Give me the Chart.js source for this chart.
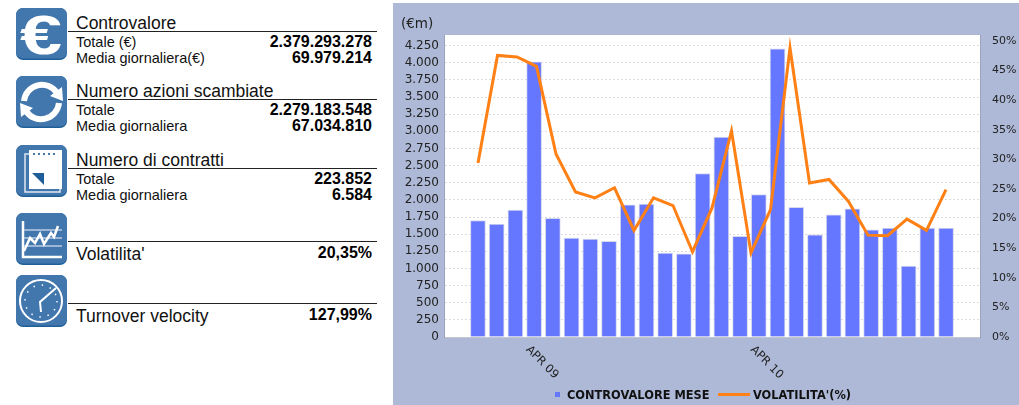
<!DOCTYPE html>
<html>
<head>
<meta charset="utf-8">
<script src="https://cdn.jsdelivr.net/npm/chart.js@4"></script>
<style>
html, body { margin: 0; padding: 0; background: #fff; overflow: hidden; }
#page { position: relative; width: 1019px; height: 405px; }
#panel { position: absolute; left: 393px; top: 3px; width: 626px; height: 402px; background: #adb9d7; }
#panel canvas { position: absolute; left: 0; top: 0; }
.ico { position: absolute; left: 16px; width: 51px; height: 52px; }
.rule { position: absolute; left: 68px; width: 309px; height: 1px; background: #222; }
.txt { position: absolute; font-family: "Liberation Sans", Arial, sans-serif; color: #111; white-space: nowrap; line-height: 18px; }
.val { position: absolute; right: 647px; font-family: "Liberation Sans", Arial, sans-serif; font-weight: bold; font-size: 16px; color: #000; white-space: nowrap; line-height: 18px; }
#legend { position: absolute; top: 385px; left: 0; font: bold 11.4px "DejaVu Sans", sans-serif; color: #111; line-height: 14px; }
#legend span { position: absolute; white-space: nowrap; }
#legend i { position: absolute; display: block; }
</style>
</head>
<body>
<div id="page">
  <svg class="ico" style="top:8px" viewBox="0 0 51 52"><rect width="51" height="52" rx="7" fill="#1f5f99"/><rect width="51" height="50.5" rx="7" fill="#4277ad"/><text transform="translate(25 46) scale(1.35 1)" font-family="Liberation Sans" font-weight="bold" font-size="56" fill="#fff" text-anchor="middle">€</text></svg>
  <svg class="ico" style="top:76px" viewBox="0 0 51 52"><rect width="51" height="52" rx="7" fill="#1f5f99"/><rect width="51" height="50.5" rx="7" fill="#4277ad"/><path d="M8 25 A18 18 0 0 1 41 17" fill="none" stroke="#fff" stroke-width="6"/><path d="M43 27 A18 18 0 0 1 10 35" fill="none" stroke="#fff" stroke-width="6"/><path d="M34 20 L47 25 L46 11 Z M17 32 L4 27 L5 41 Z" fill="#fff"/></svg>
  <svg class="ico" style="top:145px" viewBox="0 0 51 52"><rect width="51" height="52" rx="7" fill="#1f5f99"/><rect width="51" height="50.5" rx="7" fill="#4277ad"/><rect x="9" y="9" width="35" height="38" fill="none" stroke="#dfe8f2" stroke-width="1.5"/><rect x="13" y="5" width="33" height="39" fill="#fff"/><path d="M16 28 L28 28 L28 40 Z" fill="#1f5f99"/><path d="M17 9 H41" stroke="#4277ad" stroke-width="2" stroke-dasharray="2 3"/></svg>
  <svg class="ico" style="top:213px" viewBox="0 0 51 52"><rect width="51" height="52" rx="7" fill="#1f5f99"/><rect width="51" height="50.5" rx="7" fill="#4277ad"/><path d="M7 8 V44 H46" fill="none" stroke="#fff" stroke-width="2.5"/><path d="M8 17 H46 M8 25 H46 M8 33 H46" stroke="#b9cde2" stroke-width="1.5"/><path d="M8 38 L14 25 L19 30 L24 21 L28 31 L35 20 L38 24 L42 13" fill="none" stroke="#fff" stroke-width="2.5"/></svg>
  <svg class="ico" style="top:275px" viewBox="0 0 51 52"><rect width="51" height="52" rx="7" fill="#1f5f99"/><rect width="51" height="50.5" rx="7" fill="#4277ad"/><circle cx="25" cy="26" r="21" fill="none" stroke="#fff" stroke-width="2"/><circle cx="25" cy="26" r="16" fill="none" stroke="#fff" stroke-width="1.5" stroke-dasharray="1.5 6.9"/><path d="M40 13 L24 27 L25 37" fill="none" stroke="#fff" stroke-width="2"/></svg>
  <div id="side"></div>
  <div id="panel"><canvas id="chartVolumes" width="626" height="402"></canvas></div>
  <div id="legend">
    <i style="left:555px;top:7px;width:5px;height:5px;background:#6677ff"></i>
    <span id="legendBar" style="left:567px;top:3px"></span>
    <i style="left:718px;top:8px;width:32px;height:2.5px;background:#ff8015"></i>
    <span id="legendLine" style="left:753px;top:3px"></span>
  </div>
</div>
<script>
// months of the bar series, only two of them get a tick label
var months = ['GEN 09','FEB 09','MAR 09','APR 09','MAG 09','GIU 09','LUG 09','AGO 09','SET 09','OTT 09','NOV 09','DIC 09',
              'GEN 10','FEB 10','MAR 10','APR 10','MAG 10','GIU 10','LUG 10','AGO 10','SET 10','OTT 10','NOV 10','DIC 10',
              'GEN 11','FEB 11'];
var labelledMonths = ['APR 09', 'APR 10'];
var controvalore = [1700,1647,1851,4013,1730,1443,1430,1395,1929,1939,1224,1215,2385,2915,1467,2079,4203,1890,1492,1783,1871,1565,1589,1035,1589,1589];
// the line has one point less than the bars in the original
var volatilita = [29.4,47.55,47.3,45.7,30.9,24.5,23.5,25.2,18.0,23.5,22.2,14.4,21.8,34.8,14.2,21.5,48.8,26.0,26.6,22.9,17.2,17.1,19.9,18.0,24.9];
var leftStep = 250;
var rightStep = 5;

var sideTitles = ['Controvalore', 'Numero azioni scambiate', 'Numero di contratti'];
var sideRows = [
    [['Totale (€)', '2.379.293.278'], ['Media giornaliera(€)', '69.979.214']],
    [['Totale', '2.279.183.548'], ['Media giornaliera', '67.034.810']],
    [['Totale', '223.852'], ['Media giornaliera', '6.584']]
];
var sideSingles = [["Volatilita'", '20,35%'], ['Turnover velocity', '127,99%']];

function addDiv(cls, top, left, size, text) {
    var d = document.createElement('div');
    d.className = cls;
    d.style.top = top + 'px';
    if (left !== null) d.style.left = left + 'px';
    if (size !== null) d.style.fontSize = size + 'px';
    if (text !== null) d.textContent = text;
    document.getElementById('side').appendChild(d);
}

// left column
var ruleTops = [31, 99, 168, 241, 303];
sideTitles.forEach(function(title, i) {
    var r = ruleTops[i];
    addDiv('txt', r - 17, 76, 17.5, title);
    addDiv('rule', r, null, null, null);
    addDiv('txt', r + 2, 76, 14.5, sideRows[i][0][0]);
    addDiv('val', r + 2, null, null, sideRows[i][0][1]);
    addDiv('txt', r + 18, 76, 14.5, sideRows[i][1][0]);
    addDiv('val', r + 18, null, null, sideRows[i][1][1]);
});
sideSingles.forEach(function(row, i) {
    var r = ruleTops[i + 3];
    addDiv('rule', r, null, null, null);
    addDiv('txt', r + 4, 76, 17.5, row[0]);
    addDiv('val', r + 3, null, null, row[1]);
});

document.getElementById('legendBar').textContent = 'CONTROVALORE MESE';
document.getElementById('legendLine').textContent = "VOLATILITA'(%)";

function thousands(v) {
    return String(v).replace(/\B(?=(\d{3})+$)/g, '.');
}

// white plot background
var plotBackground = {
    id: 'plotBackground',
    beforeDraw: function(chart) {
        var a = chart.chartArea;
        chart.ctx.save();
        chart.ctx.fillStyle = '#fff';
        chart.ctx.fillRect(a.left, a.top, a.right - a.left, a.bottom - a.top);
        chart.ctx.restore();
    }
};

// chart.js right-aligns rotated labels, these ones start at the tick and go down to the right
var slantedMonths = {
    id: 'slantedMonths',
    afterDraw: function(chart) {
        var c = chart.ctx, sx = chart.scales.x;
        labelledMonths.forEach(function(m) {
            c.save();
            c.font = '11.5px "DejaVu Sans"';
            c.fillStyle = '#222';
            c.textAlign = 'left';
            c.textBaseline = 'alphabetic';
            c.translate(sx.getPixelForValue(months.indexOf(m)) - 16.2, chart.chartArea.bottom + 13);
            c.rotate(Math.PI / 4);
            c.fillText(m, 0, 0);
            c.restore();
        });
    }
};

var ctx = document.getElementById('chartVolumes');
var myChart = new Chart(ctx, {
    type: 'bar',
    plugins: [plotBackground, slantedMonths],
    data: {
        datasets: [{
            label: 'CONTROVALORE MESE',
            data: controvalore.map(function(v, i) { return {x: i, y: v}; }),
            backgroundColor: '#6677ff',
            borderColor: '#d6d8ee',
            borderWidth: 1,
            barThickness: 15,
            xAxisID: 'x',
            yAxisID: 'y',
            order: 2
        }, {
            label: "VOLATILITA'(%)",
            type: 'line',
            data: volatilita.map(function(v, i) { return {x: i, y: v}; }),
            borderColor: '#ff8015',
            borderWidth: 3,
            pointRadius: 0,
            fill: false,
            tension: 0,
            borderJoinStyle: 'miter',
            xAxisID: 'xLine',
            yAxisID: 'yVol',
            order: 1
        }]
    },
    options: {
        responsive: false,
        animation: false,
        layout: { padding: { left: 8, right: 0, top: 0, bottom: 0 } },
        plugins: {
            legend: { display: false },
            tooltip: { enabled: false },
            title: {
                display: true,
                text: '(€m)',
                align: 'start',
                color: '#222',
                font: { family: 'DejaVu Sans', size: 13.5, weight: 'normal' },
                padding: { top: 13, bottom: 2.8 }
            }
        },
        scales: {
            // bars get pushed half a bar left because two x axes are in use, so the range is moved to make up for it
            x: {
                type: 'linear',
                offset: false,
                min: -2.213,
                max: 26.413,
                grid: { display: false, offset: false },
                border: { color: '#c4c6d0' },
                afterFit: function(scale) { scale.height = 68; },
                ticks: { display: false }
            },
            xLine: {
                type: 'linear',
                display: false,
                offset: false,
                min: -1.744,
                max: 25.744
            },
            y: {
                position: 'left',
                min: 0,
                max: 4406,
                grid: { color: '#dcdcdc', drawTicks: false },
                border: { color: '#9aa3bb', dash: [2, 2] },
                afterFit: function(scale) { scale.width = 43; },
                ticks: {
                    stepSize: leftStep,
                    includeBounds: false,
                    padding: 5,
                    color: '#222',
                    font: { family: 'DejaVu Sans', size: 12 },
                    callback: function(v) { return thousands(v); }
                }
            },
            yVol: {
                position: 'right',
                min: 0,
                max: 51,
                grid: { display: false, drawOnChartArea: false },
                border: { color: '#9aa3bb' },
                afterFit: function(scale) { scale.width = 39; },
                ticks: {
                    stepSize: rightStep,
                    includeBounds: false,
                    padding: 4,
                    color: '#222',
                    font: { family: 'DejaVu Sans', size: 11 },
                    callback: function(v) { return v + '%'; }
                }
            }
        }
    }
});
</script>
</body>
</html>
